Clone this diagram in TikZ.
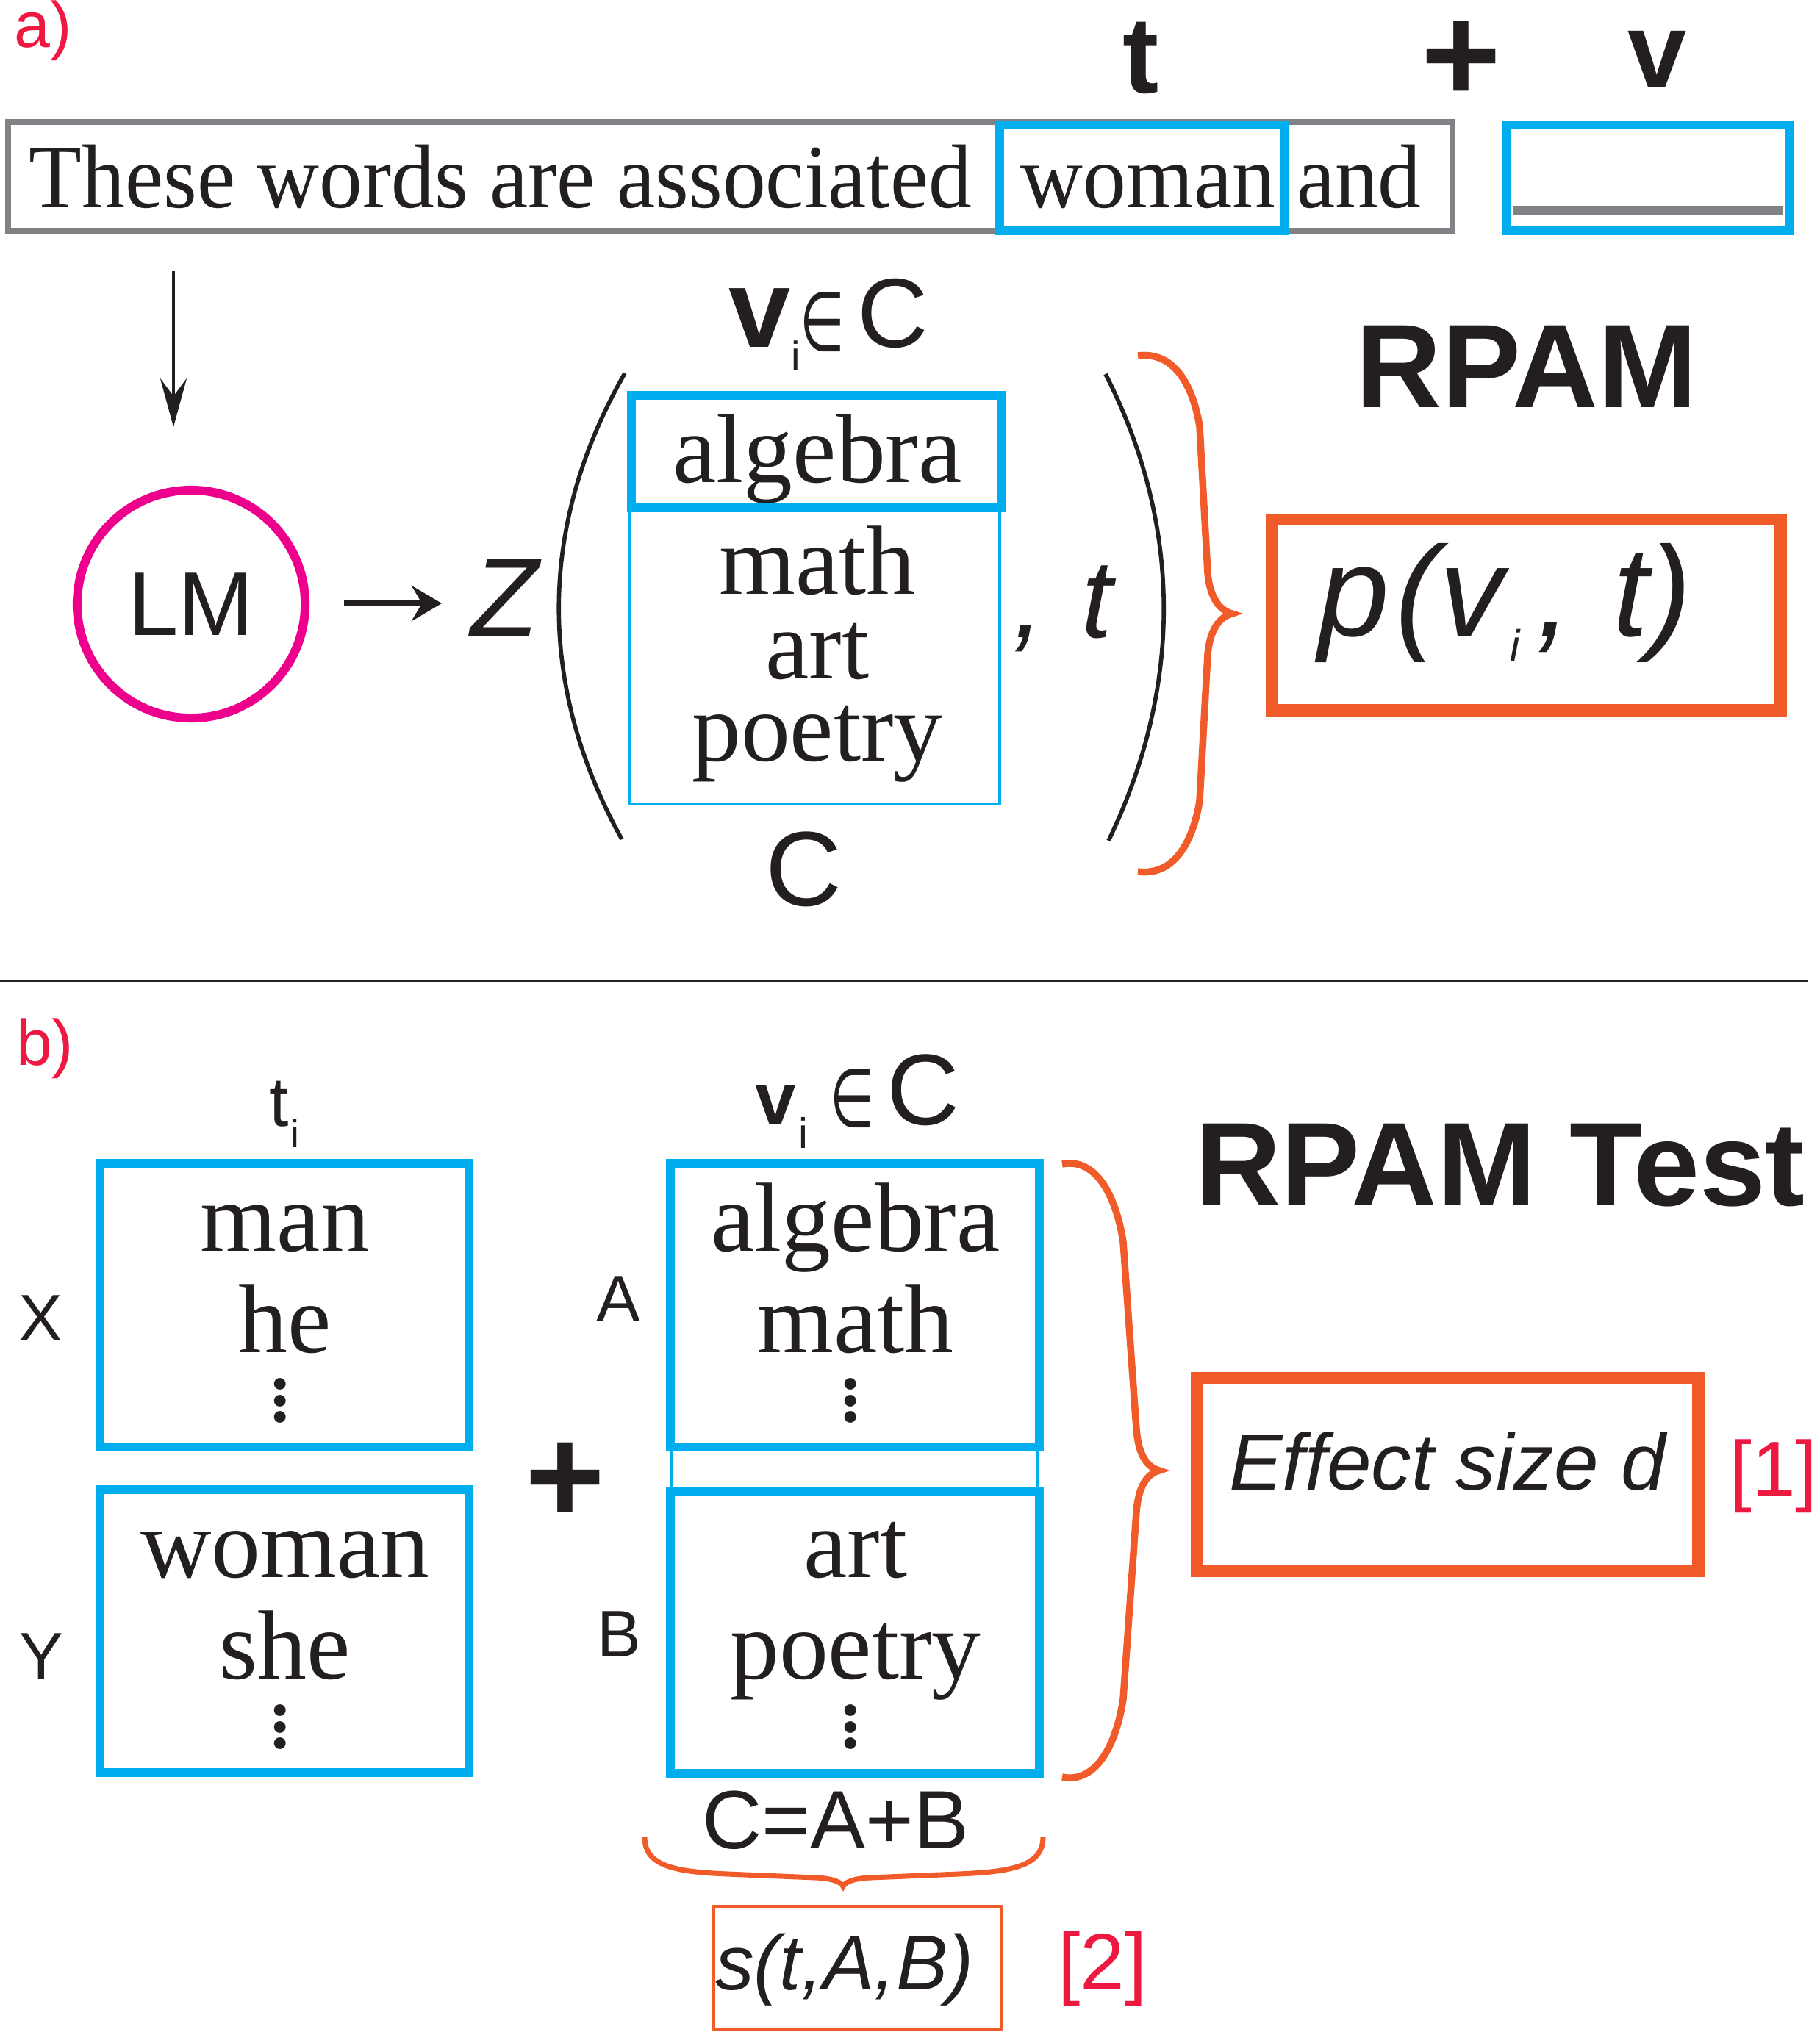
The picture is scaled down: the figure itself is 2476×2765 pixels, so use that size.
\documentclass[tikz,border=0pt]{standalone}
\usepackage{fontspec}
\setmainfont{Liberation Serif}
\setsansfont{Liberation Sans}
\newfontfamily\serifcond{Liberation Serif}[FakeStretch=0.955]
\newfontfamily\djv{DejaVu Sans}
\usetikzlibrary{arrows.meta}
\definecolor{cblue}{HTML}{00AEEF}
\definecolor{corange}{HTML}{F15A29}
\definecolor{cmag}{HTML}{EC008C}
\definecolor{cred}{HTML}{ED1941}
\definecolor{cgray}{HTML}{808285}
\definecolor{ink}{HTML}{231F20}
\newcommand\fsz[1]{\fontsize{#1}{#1}\selectfont}
\newcommand\vdotsx{\vbox{\baselineskip=6.3pt\lineskiplimit=-20pt\hbox{.}\hbox{.}\hbox{.}}}
\begin{document}
\begin{tikzpicture}[x=0.01cm,y=-0.01cm,
  every node/.style={inner sep=0pt,outer sep=0pt,text=ink},
  lbl/.style={font=\sffamily\fsz{25},text=cred},
  word/.style={font=\fsz{38},anchor=base},
  dots/.style={font=\fsz{38}},
  side/.style={font=\sffamily\fsz{25.5},anchor=base},
  bluethick/.style={draw=cblue,line width=3.5pt},
  bluethin/.style={draw=cblue,line width=1.1pt},
  orbox/.style={draw=corange,line width=4.8pt},
  orbrace/.style={draw=corange,line width=2.7pt},
  paren/.style={draw=ink,line width=1.6pt},
  title/.style={font=\sffamily\bfseries\fsz{46}}
]
\useasboundingbox (0,0) rectangle (2476,2765);

% ---------------- part a ----------------
\node[lbl,anchor=base west] (la) at (20,64) {a)};
\node[font=\sffamily\bfseries\fsz{42},anchor=base] (tt) at (1552,126) {t};
\node[font=\sffamily\bfseries\fsz{53},anchor=base] (plus1) at (1988,138) {+};
\node[font=\sffamily\bfseries\fsz{41},anchor=base] (vv) at (2255,118) {v};

\node[draw=cgray,line width=2.3pt,minimum width=19.63cm,minimum height=1.48cm] (sentbox) at (993.5,240) {};
\node[bluethick,minimum width=3.88cm,minimum height=1.44cm] (womanbox) at (1554,242) {};
\node[bluethick,minimum width=3.86cm,minimum height=1.44cm] (vbox) at (2242,242) {};
\draw[cgray,line width=3.7pt] (2058,286) -- (2425,286);
\node[font=\serifcond\fsz{35},anchor=base west] (sent) at (40,282) {These words are associated};
\node[font=\serifcond\fsz{35},anchor=base] (woman) at (1562,282) {woman};
\node[font=\serifcond\fsz{35},anchor=base west] (and) at (1764,282) {and};

\coordinate (d1) at (236,369);
\coordinate (d2) at (236,581);
\draw[ink,line width=1.4pt,-{Stealth[length=0.66cm,width=0.36cm,inset=0.24cm]}] (d1) -- (d2);

\node[circle,draw=cmag,line width=3.4pt,minimum size=3.1cm,font=\sffamily\fsz{35}] (lm) at (260,822) {LM};
\coordinate (r1) at (468,821);
\coordinate (r2) at (601,821);
\draw[ink,line width=2.1pt,-{Stealth[length=0.41cm,width=0.48cm,inset=0.14cm]}] (r1) -- (r2);
\node[font=\sffamily\itshape\fsz{43},anchor=base] (z) at (687,865) {Z};

\draw[paren] (850,508) .. controls (731,716) and (731,934) .. (846,1142);
\draw[paren] (1504,509) .. controls (1609,716) and (1609,934) .. (1508,1144);

\node[bluethin,minimum width=5.03cm,minimum height=4.03cm] (restbox) at (1108.5,892.5) {};
\node[bluethick,minimum width=5.03cm,minimum height=1.53cm] (algbox) at (1110.5,614.5) {};
\node[word] (alg1) at (1112,656) {algebra};
\node[word] (math1) at (1112,808) {math};
\node[word] (art1) at (1112,923) {art};
\node[word] (poe1) at (1112,1035) {poetry};

\node[font=\sffamily\bfseries\fsz{43},anchor=base] (va) at (1034,472) {v};
\node[font=\sffamily\fsz{16},anchor=base] (ia) at (1083,504) {i};
\node[font=\djv\fsz{32}] (ina) at (1118.5,438.5) {\scalebox{0.62}[1]{∈}};
\node[font=\sffamily\fsz{38},anchor=base] (ca) at (1214.5,472) {C};
\node[font=\sffamily\fsz{41},anchor=base] (cbot) at (1094,1232) {C};
\node[font=\sffamily\itshape\fsz{43},anchor=base west] (ct) at (1378,867) {,\hspace{0.34em}t};

\draw[orbrace] (1548,484) .. controls (1595,478) and (1622,520) .. (1632,580) -- (1643,780)
  .. controls (1646,812) and (1658,830) .. (1676,835)
  .. controls (1658,840) and (1646,858) .. (1643,890) -- (1632,1090)
  .. controls (1622,1150) and (1595,1192) .. (1548,1186);

\node[title,anchor=base] (rpam) at (2077,554) {RPAM};
\node[orbox,minimum width=6.91cm,minimum height=2.59cm] (pbox) at (2076.5,836.5) {};
\node[font=\sffamily\itshape\fsz{49.5},anchor=base west] (ptext) at (1793,865)
  {p\kern2.56pt(\kern0.57pt v\kern2.56pt\raisebox{-9.7pt}{\fsz{17}i}\kern6.26pt,\kern2.28pt\ t)};

\draw[ink,line width=0.85pt] (0,1334) -- (2460,1334);

% ---------------- part b ----------------
\node[lbl,anchor=base west] (lb) at (22,1449) {b)};
\node[font=\sffamily\fsz{27},anchor=base] (tb) at (380,1532) {t};
\node[font=\sffamily\fsz{15},anchor=base] (ib) at (401.5,1561) {i};
\node[font=\sffamily\bfseries\fsz{28.5},anchor=base] (vb) at (1055.5,1529) {v};
\node[font=\sffamily\fsz{16.5},anchor=base] (ibb) at (1092.5,1562) {i};
\node[font=\djv\fsz{31.5}] (inb) at (1159.5,1495) {\scalebox{0.62}[1]{∈}};
\node[font=\sffamily\fsz{39},anchor=base] (cb) at (1256.5,1530) {C};

\node[bluethick,minimum width=5.02cm,minimum height=3.86cm] (xbox) at (387,1776) {};
\node[bluethick,minimum width=5.02cm,minimum height=3.85cm] (ybox) at (387,2219.5) {};
\node[draw=cblue,line width=1pt,minimum width=4.98cm,minimum height=8.3cm] (cbox) at (1163,1998) {};
\node[bluethick,minimum width=5.02cm,minimum height=3.86cm] (abox) at (1163,1776) {};
\node[bluethick,minimum width=5.02cm,minimum height=3.84cm] (bbox) at (1163,2221) {};

\node[word] (man) at (388,1702) {man};
\node[word] (he) at (388,1840) {he};
\node[dots] (xd) at (381,1906) {\vdotsx};
\node[word] (wom) at (388,2146) {woman};
\node[word] (she) at (388,2284) {she};
\node[dots] (yd) at (381,2350) {\vdotsx};
\node[word] (alg2) at (1164,1702) {algebra};
\node[word] (math2) at (1164,1840) {math};
\node[dots] (ad) at (1157,1906) {\vdotsx};
\node[word] (art2) at (1164,2146) {art};
\node[word] (poe2) at (1164,2284) {poetry};
\node[dots] (bd) at (1157,2350) {\vdotsx};

\node[side] (lx) at (55,1824) {X};
\node[side] (ly) at (56,2284) {Y};
\node[side] (la2) at (841,1798) {A};
\node[side] (lb2) at (842,2254) {B};
\node[font=\sffamily\bfseries\fsz{53},anchor=base] (plus2) at (769,2072) {+};

\draw[orbrace] (1445,1584) .. controls (1490,1575) and (1518,1625) .. (1528,1690) -- (1546,1945)
  .. controls (1549,1980) and (1560,1996) .. (1577,2001)
  .. controls (1560,2006) and (1549,2022) .. (1546,2057) -- (1528,2312)
  .. controls (1518,2377) and (1490,2427) .. (1445,2418);

\node[title,anchor=base west] (rpamt) at (1626,1640) {RPAM Test};
\node[orbox,minimum width=6.81cm,minimum height=2.62cm] (effbox) at (1969.5,2006) {};
\node[font=\sffamily\itshape\fsz{31},anchor=base west] (eff) at (1672,2027) {Effect size d};
\node[font=\sffamily\fsz{30.5},text=cred,anchor=base] (ref1) at (2413,2036) {[1]};

\node[font=\sffamily\fsz{32},anchor=base] (cab) at (1137,2515) {C=A+B};
\draw[draw=corange,line width=2pt] (877,2500) .. controls (877,2540) and (920,2547) .. (990,2550) -- (1110,2555)
  .. controls (1135,2556) and (1145,2562) .. (1147,2567)
  .. controls (1149,2562) and (1159,2556) .. (1184,2555) -- (1304,2550)
  .. controls (1374,2547) and (1419,2540) .. (1419,2500);
\node[draw=corange,line width=1.2pt,minimum width=3.91cm,minimum height=1.68cm] (sbox) at (1166.5,2678) {};
\node[font=\sffamily\itshape\fsz{30},anchor=base west] (sab) at (973,2707) {s(t,A,B)};
\node[font=\sffamily\fsz{31},text=cred,anchor=base] (ref2) at (1500,2707) {[2]};
\end{tikzpicture}
\end{document}
